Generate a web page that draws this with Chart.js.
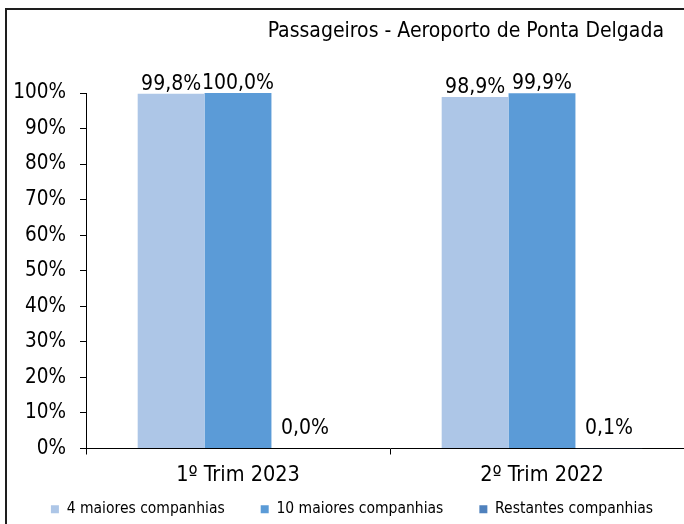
<!DOCTYPE html>
<html>
<head>
<meta charset="utf-8">
<script src="https://cdn.jsdelivr.net/npm/chart.js@4.4.1/dist/chart.umd.min.js"></script>
<style>
html, body { margin: 0; padding: 0; background: #fff; overflow: hidden; width: 684px; height: 524px; }
.edge { position: absolute; background: #1e1e1e; }
#edgeTop { left: 5px; top: 8px; width: 679px; height: 2px; }
#edgeLeft { left: 5px; top: 8px; width: 2px; height: 516px; }
#wrap { position: absolute; left: 0; top: 0; width: 700px; height: 550px; }
</style>
</head>
<body>
<div class="edge" id="edgeTop"></div>
<div class="edge" id="edgeLeft"></div>
<div id="wrap"><canvas id="chart"></canvas></div>
<script>
const chartTitle = 'Passageiros - Aeroporto de Ponta Delgada'
const categories = ['1º Trim 2023', '2º Trim 2022']
const seriesNames = ['4 maiores companhias', '10 maiores companhias', 'Restantes companhias']
const top4 = [99.8, 98.9]
const top10 = [100.0, 99.9]
const others = [0.0, 0.1]
const yTickLabels = ['0%', '10%', '20%', '30%', '40%', '50%', '60%', '70%', '80%', '90%', '100%']

const FONT = '"DejaVu Sans Condensed", "DejaVu Sans", sans-serif'

// value labels over each bar, comma decimals like the original
const barLabels = {
    id: 'barLabels',
    afterDatasetsDraw(chart) {
        const ctx = chart.ctx
        const base = chart.scales.y.getPixelForValue(0)
        ctx.save()
        ctx.font = '21px ' + FONT
        ctx.fillStyle = '#000'
        ctx.textAlign = 'center'
        ctx.textBaseline = 'alphabetic'
        chart.data.datasets.forEach((ds, i) => {
            chart.getDatasetMeta(i).data.forEach((bar, j) => {
                const txt = ds.data[j].toFixed(1).replace('.', ',') + '%'
                ctx.fillText(txt, bar.x, Math.min(bar.y - 4, base - 15))
            })
        })
        ctx.restore()
    }
}

// title sits at the right, not over the whole plot
const rightTitle = {
    id: 'rightTitle',
    afterDraw(chart) {
        const ctx = chart.ctx
        ctx.save()
        ctx.font = '21px ' + FONT
        ctx.fillStyle = '#000'
        ctx.textAlign = 'right'
        ctx.textBaseline = 'alphabetic'
        ctx.fillText(chartTitle, 664, 37)
        ctx.restore()
    }
}

// legend needs wide gaps but a short box, pull it up under the axis labels
const legendUp = {
    id: 'legendUp',
    afterLayout(chart) {
        chart.legend.top -= 23
        chart.legend.bottom -= 23
    }
}

const ctx = document.getElementById('chart').getContext('2d')
new Chart(ctx, {
    type: 'bar',
    data: {
        labels: categories,
        datasets: [{
            label: seriesNames[0],
            data: top4,
            backgroundColor: '#adc6e7',
            borderWidth: 0,
        }, {
            label: seriesNames[1],
            data: top10,
            backgroundColor: '#5b9bd7',
            borderWidth: 0,
        }, {
            label: seriesNames[2],
            data: others,
            backgroundColor: '#4f81bd',
            borderWidth: 0,
        }]
    },
    options: {
        responsive: true,
        maintainAspectRatio: false,
        animation: false,
        categoryPercentage: 0.66,
        barPercentage: 1.0,
        layout: {
            padding: {left: 10, right: 6, top: 93, bottom: 0}
        },
        plugins: {
            legend: {
                position: 'bottom',
                labels: {
                    boxWidth: 8,
                    boxHeight: 8,
                    padding: 36,
                    color: '#000',
                    font: {family: FONT, size: 15.5}
                }
            },
            tooltip: {enabled: false},
            title: {display: false}
        },
        scales: {
            x: {
                grid: {display: true, drawOnChartArea: false, drawTicks: true, tickLength: 6, color: '#000', offset: true},
                border: {color: '#000', width: 1},
                ticks: {color: '#000', padding: 8, font: {family: FONT, size: 21.5}},
                afterFit: (s) => { s.height = 40 }
            },
            y: {
                min: 0,
                max: 100,
                ticks: {
                    stepSize: 10,
                    color: '#000',
                    padding: 14,
                    font: {family: FONT, size: 20.5},
                    callback: (v, i) => yTickLabels[i]
                },
                grid: {display: true, drawOnChartArea: false, drawTicks: true, tickLength: 6, color: '#000'},
                border: {color: '#000', width: 1},
                afterFit: (s) => { s.width = 76 }
            }
        }
    },
    plugins: [barLabels, rightTitle, legendUp]
})
</script>
</body>
</html>
